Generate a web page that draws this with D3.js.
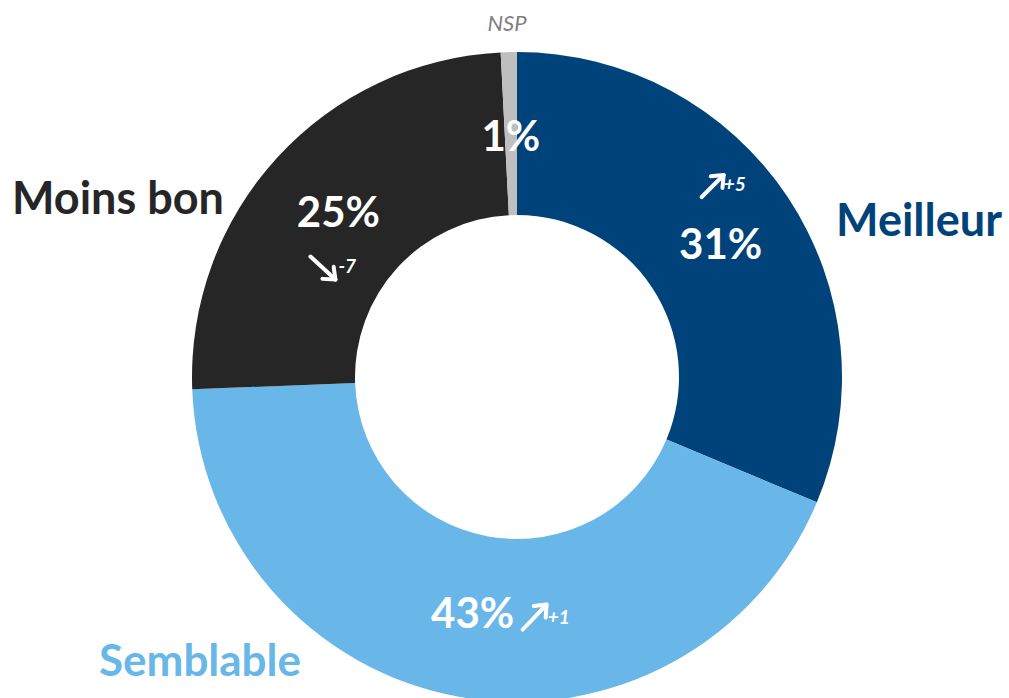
<!DOCTYPE html>
<html>
<head>
<meta charset="utf-8">
<script src="https://cdn.jsdelivr.net/npm/d3@7"></script>
<style>
  body { margin: 0; background: #fff; }
  text { font-family: Lato, "Open Sans", sans-serif; font-weight: bold; }
</style>
</head>
<body>
<div id="chart"></div>
<script>
// data
const categories = ["Meilleur", "Semblable", "Moins bon", "NSP"];
const values = [31.3, 43.1, 24.8, 0.8];
const changes = ["+5", "+1", "-7", null];
const colors = ["#00437A", "#69B7E8", "#262626", "#BFBFBF"];

const width = 1009, height = 698;
const cx = 517, cy = 377;
const outerR = 325, innerR = 162;

const svg = d3.select("#chart").append("svg")
    .attr("width", width)
    .attr("height", height);

const g = svg.append("g")
    .attr("transform", "translate(" + cx + "," + cy + ")");

const pie = d3.pie().sort(null).value(function(d) { return d; });
const arcs = pie(values);
const arc = d3.arc().innerRadius(innerR).outerRadius(outerR);

g.selectAll("path.slice")
    .data(arcs)
    .enter().append("path")
    .attr("class", "slice")
    .attr("d", arc)
    .attr("fill", function(d, i) { return colors[i]; });

// percentage labels at centroids, small nudges
const pctShift = [[1, 1], [-1, -5], [1, -2], [0, 1]];
g.selectAll("text.pct")
    .data(arcs)
    .enter().append("text")
    .attr("class", "pct")
    .attr("x", function(d) { return arc.centroid(d)[0] + pctShift[d.index][0]; })
    .attr("y", function(d) { return arc.centroid(d)[1] + pctShift[d.index][1]; })
    .attr("text-anchor", "middle")
    .attr("dominant-baseline", "central")
    .attr("fill", "#fff")
    .style("font-size", "42px")
    .text(function(d) { return Math.round(d.data) + "%"; });

// change arrows: offset from centroid (tail, head, label)
const arrowPos = [
    {tail: [-18, -45], head: [4, -67], lab: [4, -51]},
    {tail: [49, 13], head: [73, -12], lab: [74, 7]},
    {tail: [-27, 44], head: [-2, 67], lab: [1, 60]},
    null
];

arcs.forEach(function(d, i) {
    if (!changes[i]) return;
    const c = arc.centroid(d), p = arrowPos[i];
    const x1 = c[0] + p.tail[0], y1 = c[1] + p.tail[1];
    const x2 = c[0] + p.head[0], y2 = c[1] + p.head[1];
    const ang = Math.atan2(y2 - y1, x2 - x1);
    const hl = 13;
    const a1 = ang + Math.PI * 0.78, a2 = ang - Math.PI * 0.78;
    g.append("line")
        .attr("x1", x1).attr("y1", y1).attr("x2", x2).attr("y2", y2)
        .attr("stroke", "#fff").attr("stroke-width", 4)
        .attr("stroke-linecap", "round");
    g.append("path")
        .attr("d", "M" + (x2 + hl * Math.cos(a1)) + "," + (y2 + hl * Math.sin(a1)) +
            "L" + x2 + "," + y2 +
            "L" + (x2 + hl * Math.cos(a2)) + "," + (y2 + hl * Math.sin(a2)))
        .attr("fill", "none")
        .attr("stroke", "#fff").attr("stroke-width", 4)
        .attr("stroke-linecap", "round").attr("stroke-linejoin", "round");
    g.append("text")
        .attr("x", c[0] + p.lab[0])
        .attr("y", c[1] + p.lab[1])
        .attr("fill", "#fff")
        .style("font-size", "19px")
        .style("font-style", "italic")
        .text(changes[i]);
});

// category labels
const catPos = [
    {x: 919, y: 236, size: 45, color: colors[0], italic: false},
    {x: 200, y: 676, size: 44, color: colors[1], italic: false},
    {x: 118, y: 214, size: 45, color: colors[2], italic: false},
    {x: 507, y: 31, size: 22, color: "#7F7F7F", italic: true}
];

svg.selectAll("text.cat")
    .data(categories)
    .enter().append("text")
    .attr("class", "cat")
    .attr("x", function(d, i) { return catPos[i].x; })
    .attr("y", function(d, i) { return catPos[i].y; })
    .attr("text-anchor", "middle")
    .attr("fill", function(d, i) { return catPos[i].color; })
    .style("font-size", function(d, i) { return catPos[i].size + "px"; })
    .style("font-style", function(d, i) { return catPos[i].italic ? "italic" : "normal"; })
    .style("font-weight", function(d, i) { return catPos[i].italic ? "normal" : "bold"; })
    .text(function(d) { return d; });
</script>
</body>
</html>
